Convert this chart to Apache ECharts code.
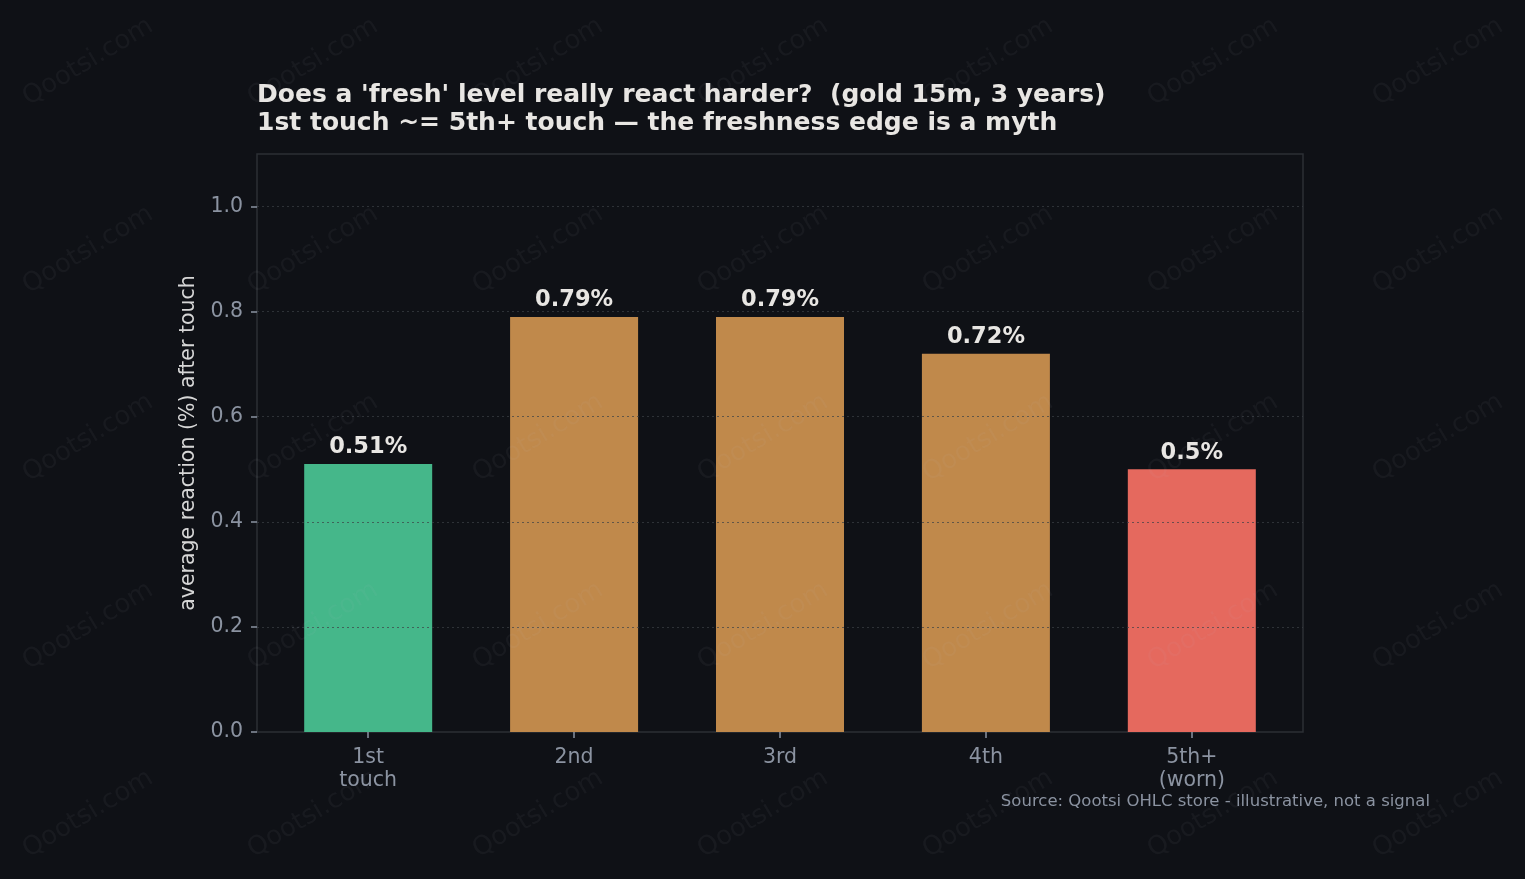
<!DOCTYPE html>
<html>
<head>
<meta charset="utf-8">
<script src="https://cdn.jsdelivr.net/npm/echarts@6/dist/echarts.min.js"></script>
<style>
  html, body { margin: 0; padding: 0; background: #0f1116; }
  #main { width: 1525px; height: 879px; }
</style>
</head>
<body>
<div id="main"></div>
<script>
// data
var categories = ['1st\ntouch', '2nd', '3rd', '4th', '5th+\n(worn)'];
var reaction = [0.51, 0.79, 0.79, 0.72, 0.5];
var barColors = ['#45b78a', '#c0894b', '#c0894b', '#c0894b', '#e5695e'];
var yTicks = [0, 0.2, 0.4, 0.6, 0.8, 1.0];
var xTicks = [0, 1, 2, 3, 4];

var chart = echarts.init(document.getElementById('main'));
var font = 'DejaVu Sans';

// watermark grid
var marks = [];
for (var i = 0; i < 7; i++) {
    for (var j = 0; j < 5; j++) {
        marks.push({
            type: 'text',
            x: 88 + 225 * i,
            y: 62 + 188 * j,
            rotation: 31 * Math.PI / 180,
            z: 100,
            silent: true,
            style: {
                text: 'Qootsi.com',
                fill: 'rgba(200,205,215,0.05)',
                font: '26px "DejaVu Sans"',
                align: 'center',
                verticalAlign: 'middle'
            }
        });
    }
}
marks.push({
    type: 'text',
    right: 95,
    top: 793,
    style: {
        text: 'Source: Qootsi OHLC store - illustrative, not a signal',
        fill: '#8b93a1',
        font: '16.5px "DejaVu Sans"'
    }
});

var data = reaction.map(function (v, i) {
    return { value: [i, v], itemStyle: { color: barColors[i] } };
});

chart.setOption({
    backgroundColor: '#0f1116',
    animation: false,
    title: {
        text: "Does a 'fresh' level really react harder?  (gold 15m, 3 years)\n1st touch ~= 5th+ touch \u2014 the freshness edge is a myth",
        left: 252,
        top: 76,
        textStyle: {
            color: '#e8e6e3',
            fontFamily: font,
            fontWeight: 'bold',
            fontSize: 25,
            lineHeight: 28
        }
    },
    grid: {
        left: 257,
        top: 154,
        width: 1046,
        height: 578,
        show: true,
        borderColor: '#2c2f35',
        borderWidth: 1.5,
        backgroundColor: 'transparent'
    },
    xAxis: {
        type: 'value',
        min: -0.54,
        max: 4.54,
        splitLine: { show: false },
        axisLine: { show: false, onZero: false },
        axisTick: {
            show: true,
            customValues: xTicks,
            length: 6,
            lineStyle: { color: '#8b93a1', width: 1.5 }
        },
        axisLabel: {
            customValues: xTicks,
            margin: 14,
            color: '#8b93a1',
            fontFamily: font,
            fontSize: 20.5,
            lineHeight: 23,
            formatter: function (v) { return categories[Math.round(v)]; }
        }
    },
    yAxis: {
        type: 'value',
        min: 0,
        max: 1.1,
        name: 'average reaction (%) after touch',
        nameLocation: 'middle',
        nameGap: 57,
        nameTextStyle: { color: '#d6d6d6', fontFamily: font, fontSize: 20.5 },
        splitLine: { show: false },
        axisLine: { show: false, onZero: false },
        axisTick: {
            show: true,
            customValues: yTicks,
            length: 6,
            lineStyle: { color: '#8b93a1', width: 1.5 }
        },
        axisLabel: {
            customValues: yTicks,
            margin: 14,
            color: '#8b93a1',
            fontFamily: font,
            fontSize: 20.5,
            padding: [4, 0, 0, 0],
            formatter: function (v) { return v.toFixed(1); }
        }
    },
    series: [{
        type: 'bar',
        barWidth: 128,
        data: data,
        label: {
            show: true,
            position: 'top',
            distance: 5,
            color: '#e8e6e3',
            fontFamily: font,
            fontWeight: 'bold',
            fontSize: 22.5,
            formatter: function (p) { return p.value[1] + '%'; }
        },
        markLine: {
            silent: true,
            symbol: 'none',
            label: { show: false },
            lineStyle: { color: 'rgba(60,64,70,0.7)', type: [2, 3], width: 1.2 },
            data: yTicks.slice(1).map(function (t) { return { yAxis: t }; })
        }
    }],
    graphic: marks
});
</script>
</body>
</html>
